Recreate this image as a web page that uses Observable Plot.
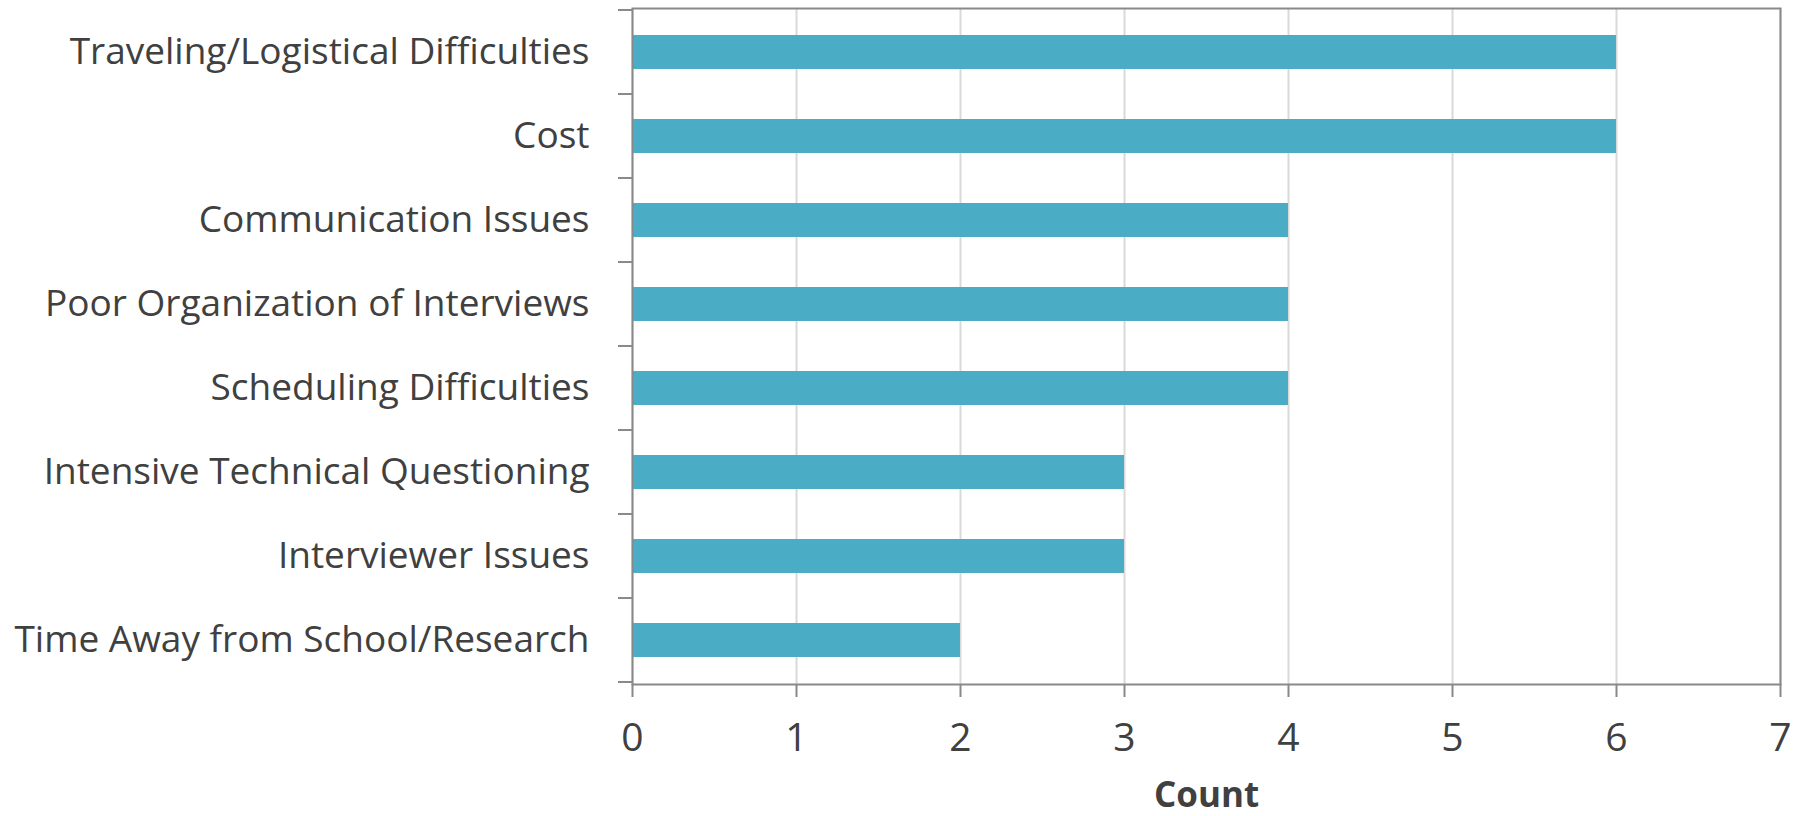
<!DOCTYPE html>
<html>
<head>
<meta charset="utf-8">
<script src="https://cdn.jsdelivr.net/npm/d3@7"></script>
<script src="https://cdn.jsdelivr.net/npm/@observablehq/plot@0.6"></script>
<style>
  html, body { margin: 0; padding: 0; background: #ffffff; }
  #chart { width: 1804px; height: 816px; }
</style>
</head>
<body>
<div id="chart"></div>
<script>
const categories = [
  "Traveling/Logistical Difficulties",
  "Cost",
  "Communication Issues",
  "Poor Organization of Interviews",
  "Scheduling Difficulties",
  "Intensive Technical Questioning",
  "Interviewer Issues",
  "Time Away from School/Research"
];
const counts = [6, 6, 4, 4, 4, 3, 3, 2];
const xTicks = [0, 1, 2, 3, 4, 5, 6, 7];
const xLabel = "Count";

const data = categories.map((c, i) => ({cat: c, count: counts[i]}));
const padInner = 0.6;
const axisGray = "#898989";
const textColor = "#404040";

// tick marks at band boundaries on the y axis
function bandBoundaryTicks(index, scales, values, dimensions) {
  const y = scales.y;
  const step = y(categories[1]) - y(categories[0]);
  const bw = typeof y.bandwidth === "function" ? y.bandwidth() : step * (1 - padInner);
  const off = (step - bw) / 2;
  const bounds = categories.map(c => y(c) - off);
  bounds.push(y(categories[categories.length - 1]) + bw + off);
  const g = d3.create("svg:g");
  const x0 = dimensions.marginLeft;
  g.selectAll("line").data(bounds).join("line")
    .attr("x1", x0 - 14).attr("x2", x0)
    .attr("y1", d => d).attr("y2", d => d)
    .attr("stroke", axisGray).attr("stroke-width", 2);
  return g.node();
}

const plot = Plot.plot({
  width: 1804,
  height: 816,
  marginLeft: 632,
  marginRight: 24,
  marginTop: 8,
  marginBottom: 132,
  style: {fontFamily: "'Open Sans', sans-serif", fontSize: "37px", color: textColor, background: "#ffffff"},
  x: {domain: [0, 7], label: null},
  y: {domain: categories, paddingInner: padInner, paddingOuter: padInner / 2, label: null},
  marks: [
    Plot.gridX(xTicks, {stroke: "#d9d9d9", strokeOpacity: 1, strokeWidth: 2}),
    Plot.barX(data, {x: "count", y: "cat", fill: "#4BACC6"}),
    Plot.frame({stroke: axisGray, strokeWidth: 2}),
    Plot.axisX({ticks: xTicks, tickFormat: "d", tickSize: 13, tickPadding: 26, stroke: axisGray, strokeWidth: 2, strokeOpacity: 1, fill: textColor, label: null, fontSize: 39}),
    Plot.axisY({tickSize: 0, tickPadding: 43, fill: textColor, label: null, fontSize: 37}),
    bandBoundaryTicks,
    Plot.text([xLabel], {frameAnchor: "bottom", dy: 122, fontWeight: "bold", fontSize: 35, fill: textColor})
  ]
});
document.getElementById("chart").appendChild(plot);
</script>
</body>
</html>
